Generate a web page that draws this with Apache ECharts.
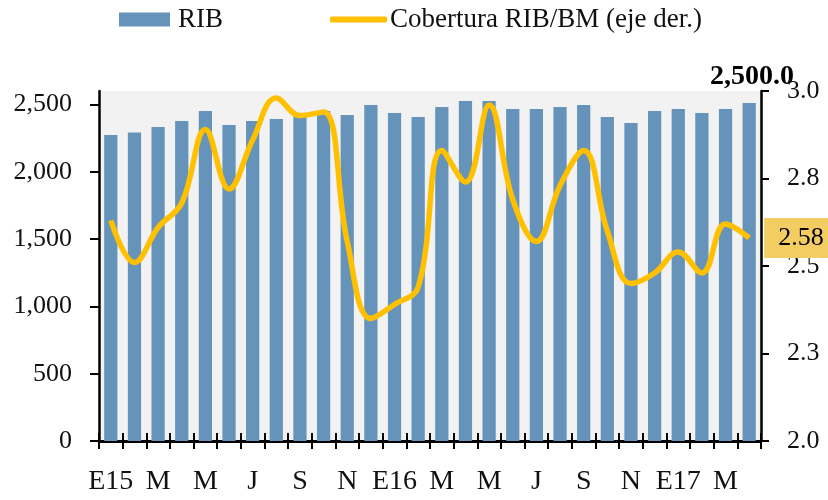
<!DOCTYPE html>
<html>
<head>
<meta charset="utf-8">
<script src="https://cdn.jsdelivr.net/npm/echarts@6/dist/echarts.min.js"></script>
<style>html,body{margin:0;padding:0;background:#fff}#c{width:828px;height:500px}</style>
</head>
<body>
<div id="c"></div>
<script>
const categories = ['E15','F','M','A','M','J','J','A','S','O','N','D','E16','F','M','A','M','J','J','A','S','O','N','D','E17','F','M','A'];
const rib = [2273,2291,2333,2377,2452,2348,2377,2392,2422,2452,2422,2496,2437,2407,2481,2526,2526,2467,2467,2481,2496,2407,2363,2452,2467,2437,2467,2511];
const cobertura = [2.63,2.51,2.61,2.68,2.89,2.72,2.86,2.98,2.93,2.94,2.57,2.35,2.39,2.44,2.83,2.74,2.96,2.69,2.57,2.73,2.83,2.60,2.45,2.48,2.54,2.48,2.62,2.58];
const leftTicks = [0,500,1000,1500,2000,2500];
const seriesNames = ['RIB','Cobertura RIB/BM (eje der.)'];
const stray = '2,500.0';

const FONT = '"Liberation Serif", "Times New Roman", serif';
const TXT = '#111';
const chart = echarts.init(document.getElementById('c'), null, {renderer:'canvas'});
chart.setOption({
  animation:false,
  backgroundColor:'#fff',
  textStyle:{fontFamily:FONT},
  legend:[
    {data:[seriesNames[0]], left:119, top:6, padding:0, itemWidth:51, itemHeight:14, icon:'rect',
     textStyle:{fontFamily:FONT, fontSize:27, color:TXT, padding:[0,0,0,3]}},
    {data:[seriesNames[1]], left:330, top:6, padding:0, itemWidth:57, itemHeight:6, icon:'roundRect',
     itemStyle:{color:'#ffc000', borderWidth:0},
     textStyle:{fontFamily:FONT, fontSize:27, color:TXT, padding:[0,0,0,-2]}}
  ],
  grid:{left:99, right:67, top:91, bottom:59, show:true, backgroundColor:'#f2f2f2', borderWidth:0, containLabel:false},
  xAxis:[
    {type:'category', data:categories, boundaryGap:true,
     axisLine:{lineStyle:{color:'#000', width:3}},
     axisTick:{show:true, interval:0, length:8, lineStyle:{color:'#000', width:2}},
     axisLabel:{interval:1, margin:27, fontFamily:FONT, fontSize:28, color:TXT},
     splitLine:{show:false}},
    {type:'category', data:categories, boundaryGap:true, position:'bottom',
     axisLine:{show:false},
     axisTick:{show:true, inside:true, interval:0, length:8, lineStyle:{color:'#000', width:2}},
     axisLabel:{show:false}, splitLine:{show:false}}
  ],
  yAxis:[
    {type:'value', min:0, max:2600, position:'left',
     axisLine:{show:true, lineStyle:{color:'#000', width:2.5}},
     axisTick:{show:true, length:9, customValues:leftTicks, lineStyle:{color:'#000', width:2}},
     axisLabel:{customValues:leftTicks, margin:27, fontFamily:FONT, fontSize:26, color:TXT,
       formatter:v=>v.toLocaleString('en-US')},
     splitLine:{show:false}},
    {type:'value', min:2.0, max:3.0, interval:0.25, position:'right',
     axisLine:{show:true, lineStyle:{color:'#000', width:2.5}},
     axisTick:{show:true, length:8, lineStyle:{color:'#000', width:2}},
     axisLabel:{margin:26, fontFamily:FONT, fontSize:26, color:TXT, formatter:v=>v.toFixed(1)},
     splitLine:{show:false}}
  ],
  series:[
    {name:seriesNames[0], type:'bar', data:rib, xAxisIndex:0, yAxisIndex:0, barWidth:'56%',
     itemStyle:{color:'#6693b9'}},
    {name:seriesNames[1], type:'line', data:cobertura, xAxisIndex:0, yAxisIndex:1, smooth:0.4,
     symbol:'none', z:5, lineStyle:{color:'#ffc000', width:5.5}, itemStyle:{color:'#ffc000'},
     endLabel:{show:true, distance:15, formatter:p=>p.value.toFixed(2), backgroundColor:'#f3cd62',
       padding:[7,5,7,14], fontFamily:FONT, fontSize:26, lineHeight:26, color:'#000'}}
  ],
  graphic:[
    {type:'text', left:710, top:63, z:10,
     style:{text:stray, font:'bold 28px "Liberation Serif", serif', fill:'#000'}}
  ]
});
</script>
</body>
</html>
